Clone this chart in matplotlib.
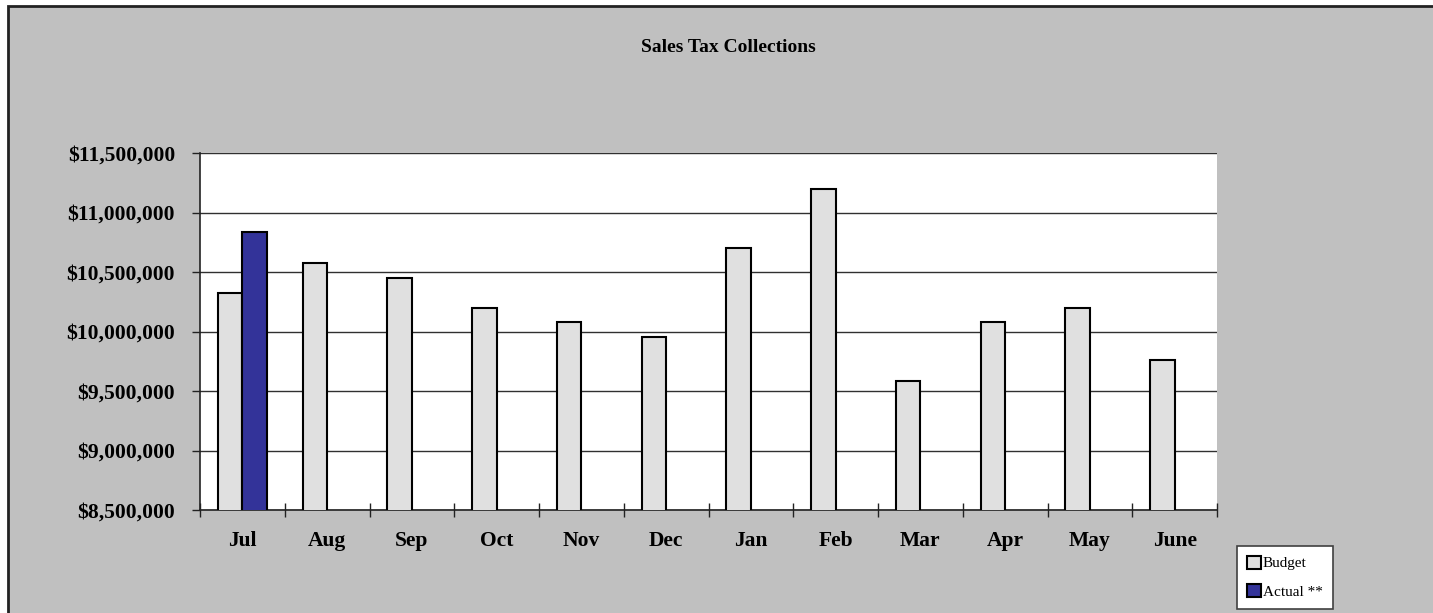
import matplotlib
matplotlib.use("Agg")
import matplotlib.pyplot as plt
from matplotlib.patches import Rectangle, Patch
from matplotlib.ticker import FuncFormatter, FixedLocator
import numpy as np

months = ["Jul", "Aug", "Sep", "Oct", "Nov", "Dec", "Jan", "Feb", "Mar", "Apr", "May", "June"]
budget = [10320000, 10575000, 10450000, 10200000, 10080000, 9955000,
          10700000, 11195000, 9585000, 10080000, 10200000, 9760000]
actual = [10835000]
y_ticks = [8500000, 9000000, 9500000, 10000000, 10500000, 11000000, 11500000]
title = "Sales Tax Collections"
series_names = ["Budget", "Actual **"]

W, H = 1433, 613
fig = plt.figure(figsize=(W / 100, H / 100), dpi=100)
fig.patch.set_facecolor("white")
bg = Rectangle((8 / W, -0.05), 1.2, (H - 6) / H + 0.05,
               transform=fig.transFigure, facecolor="#C0C0C0",
               edgecolor="#222222", linewidth=2, zorder=-10)
fig.add_artist(bg)

serif = ["Liberation Serif", "DejaVu Serif"]

ax = fig.add_axes([200 / W, 1 - 510 / H, (1217 - 200) / W, (510 - 153) / H])
ax.set_zorder(1)
ax.set_facecolor("white")

x = np.arange(len(months))
bw = 0.29
ax.bar(x - bw / 2, budget, width=bw, color="#E0E0E0", edgecolor="black",
       linewidth=1.5, zorder=3)
ax.bar(x[:len(actual)] + bw / 2, actual, width=bw, color="#333399",
       edgecolor="black", linewidth=1.5, zorder=3)

ax.set_xlim(-0.5, len(months) - 0.5)
ax.set_ylim(y_ticks[0], y_ticks[-1])
ax.set_yticks(y_ticks)
ax.yaxis.set_major_formatter(FuncFormatter(lambda v, p: "${:,.0f}".format(v)))
ax.grid(axis="y", color="#303030", linewidth=1, zorder=1)
ax.set_axisbelow(True)

ax.set_xticks(x)
ax.set_xticklabels(months)
ax.xaxis.set_minor_locator(FixedLocator(np.arange(-0.5, len(months), 1.0)))
ax.tick_params(axis="x", which="major", length=0, pad=15)
ax.tick_params(axis="x", which="minor", direction="inout", length=10, width=1, color="#222222")
ax.tick_params(axis="y", direction="out", length=6, width=1, pad=12, color="#222222")

for lab in ax.get_xticklabels() + ax.get_yticklabels():
    lab.set_fontfamily(serif)
    lab.set_fontweight("bold")
    lab.set_fontsize(15.5)

for s in ["top", "right"]:
    ax.spines[s].set_visible(False)
for s in ["left", "bottom"]:
    ax.spines[s].set_color("#222222")
    ax.spines[s].set_linewidth(1.2)

fig.text(728 / W, 1 - 48 / H, title, ha="center", va="center",
         fontfamily=serif, fontweight="bold", fontsize=14)

handles = [Patch(facecolor="#E0E0E0", edgecolor="black", linewidth=1.5),
           Patch(facecolor="#333399", edgecolor="black", linewidth=1.5)]
leg = fig.legend(handles, series_names, loc="lower left",
                 bbox_to_anchor=(1237 / W, 4 / H), frameon=True, fancybox=False,
                 framealpha=1, handlelength=0.95, handleheight=0.95, handletextpad=0.1,
                 borderpad=0.65, labelspacing=0.9, borderaxespad=0,
                 prop={"family": serif, "size": 11})
leg.get_frame().set_edgecolor("#404040")
leg.get_frame().set_linewidth(1.2)
leg.get_frame().set_facecolor("white")

fig.savefig("out.png", dpi=100, facecolor=fig.get_facecolor())
